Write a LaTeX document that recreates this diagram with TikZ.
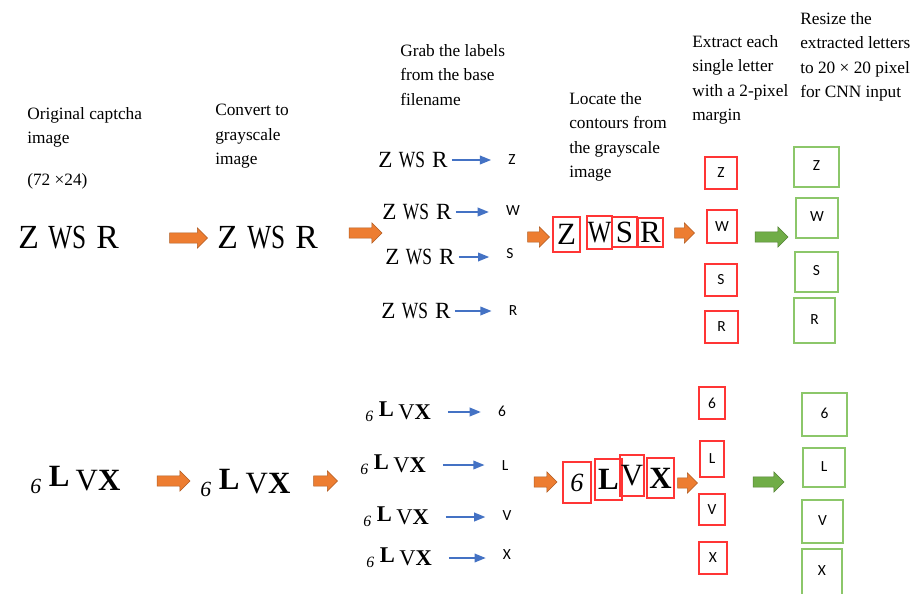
\documentclass[tikz,border=0pt]{standalone}
\usepackage{fontspec}
\usepackage{graphicx}
\setmainfont{Liberation Serif}
\newfontfamily\letterfont{Carlito}
\usetikzlibrary{shapes.arrows,arrows.meta}

\definecolor{arroworange}{HTML}{ED7D31}
\definecolor{arrowgreen}{HTML}{70AD47}
\definecolor{contourred}{HTML}{FF3535}
\definecolor{resizegreen}{HTML}{8CC76A}
\definecolor{labelblue}{HTML}{4472C4}

% one pixel of the layout
\def\px{0.025cm}

% the two captcha strings
\newcommand{\zwsr}{Z\hspace{0.28em}\scalebox{0.75}[1]{WS}\hspace{0.3em}R}
\newcommand{\sixlvx}{\raisebox{-0.1em}{\scalebox{0.7}{\itshape 6}}\hspace{0.25em}\raisebox{0.12em}{\textbf{L}}\hspace{0.2em}V\textbf{X}}
% letter sitting up-left in a resized box
\newcommand{\gl}[1]{\raisebox{2pt}{#1}\hspace{7pt}}

\tikzset{
  note/.style={anchor=north west, inner sep=0pt, align=left, font=\fontsize{12.3}{17.4}\selectfont},
  bigcap/.style={anchor=west, inner sep=0pt, font=\fontsize{24}{24}\selectfont},
  smallcap/.style={anchor=west, inner sep=0pt, font=\fontsize{16.5}{16.5}\selectfont},
  lettertxt/.style={inner sep=1pt, font=\letterfont\fontsize{11}{11}\selectfont},
  labelarrow/.style={draw=labelblue, line width=1.5pt, -{Triangle[length=8pt,width=6pt]}},
  flowarrow/.style={single arrow, draw=#1!75!black, fill=#1, line width=0.4pt,
    inner sep=3.4pt, single arrow head extend=3.6pt},
  contour/.style={draw=contourred, line width=0.8pt, inner sep=0pt, font=\fontsize{22}{22}\selectfont},
  extractbox/.style={draw=contourred, line width=1pt, inner sep=0pt, font=\letterfont\fontsize{11}{11}\selectfont},
  resizedbox/.style={draw=resizegreen, line width=1pt, inner sep=0pt, font=\letterfont\fontsize{11}{11}\selectfont},
}

\begin{document}
\begin{tikzpicture}[x=\px, y=-\px]
    \fill[white] (0,0) rectangle (915,593);
    \useasboundingbox (0,0) rectangle (915,593);

    % Step descriptions
    \node[note] (tOrig) at (27,107) {Original captcha\\image};
    \node[note] (tSize) at (27,173) {(72 ×24)};
    \node[note] (tGray) at (215,104) {Convert to\\grayscale\\image};
    \node[note] (tGrab) at (400,44) {Grab the labels\\from the base\\filename};
    \node[note] (tLocate) at (569,92) {Locate the\\contours from\\the grayscale\\image};
    \node[note] (tExtract) at (692,35) {Extract each\\single letter\\with a 2-pixel\\margin};
    \node[note] (tResize) at (800,12) {Resize the\\extracted letters\\to 20 × 20 pixel\\for CNN input};

    %% ---------- first captcha: Z WS R ----------
    \node[bigcap] (zOrig) at (18,238) {\zwsr};
    \node[flowarrow=arroworange, minimum height=38*\px] (za1) at (186,238) {};
    \node[bigcap] (zGray) at (217,238) {\zwsr};
    \node[flowarrow=arroworange, minimum height=33*\px] (za2) at (363,233) {};

    % labels from the filename
    \foreach \lt/\cx/\cy/\lx/\ly [count=\i] in {Z/378/160/512/160, W/382/212/513/211, S/385/257/510/254, R/381/311/513/311} {
        \node[smallcap] (zs\i) at (\cx,\cy) {\zwsr};
        \node[lettertxt] (zl\i) at (\lx,\ly) {\lt};
        \draw[labelarrow, shorten <=3pt, shorten >=11pt] (zs\i.east) -- (zs\i.east -| zl\i.west);
    }

    \node[flowarrow=arroworange, minimum height=22*\px] (za3) at (536,237) {};
    % contours
    \node[contour, minimum width=27*\px, minimum height=35*\px] (zc1) at (566.5,234.5) {Z};
    \node[contour, minimum width=25*\px, minimum height=33*\px] (zc2) at (599.5,232.5) {\scalebox{0.8}[1]{W}};
    \node[contour, minimum width=25*\px, minimum height=30*\px] (zc3) at (624.5,232) {S};
    \node[contour, minimum width=25*\px, minimum height=29*\px] (zc4) at (650.5,232.5) {R};
    \node[flowarrow=arroworange, minimum height=20*\px] (za4) at (682,233) {};

    % extracted and resized letters
    \foreach \lt/\ex/\ey/\ew/\eh/\gx/\gy/\gw/\gh [count=\i] in
        {Z/721/173/32/32/816.5/167/45/40, W/722/226.5/30/33/817/218/42/40,
         S/721/280/32/32/816.5/272/43/40, R/721.5/327/33/32/814.5/320.5/41/45} {
        \node[extractbox, minimum width=\ew*\px, minimum height=\eh*\px] (ze\i) at (\ex,\ey) {\lt};
        \node[resizedbox, minimum width=\gw*\px, minimum height=\gh*\px] (zr\i) at (\gx,\gy) {\gl{\lt}};
    }
    \node[flowarrow=arrowgreen, minimum height=33*\px] (za5) at (769,237) {};

    %% ---------- second captcha: 6 L V X ----------
    \node[bigcap, font=\fontsize{22}{22}\selectfont] (sOrig) at (30,480) {\sixlvx};
    \node[flowarrow=arroworange, minimum height=33*\px] (sa1) at (171,481) {};
    \node[bigcap, font=\fontsize{22}{22}\selectfont] (sGray) at (200,483) {\sixlvx};
    \node[flowarrow=arroworange, minimum height=24*\px] (sa2) at (323,481) {};

    \foreach \lt/\cx/\cy/\lx/\ly [count=\i] in {6/365/412/502/411, L/360/465/505/466, V/363/517/507/516, X/366/558/507/555} {
        \node[smallcap, font=\fontsize{16}{16}\selectfont] (ss\i) at (\cx,\cy) {\sixlvx};
        \node[lettertxt] (sl\i) at (\lx,\ly) {\lt};
        \draw[labelarrow, shorten <=12pt, shorten >=11pt] (ss\i.east) -- (ss\i.east -| sl\i.west);
    }

    \node[flowarrow=arroworange, minimum height=23*\px] (sa3) at (543,482) {};
    \node[contour, minimum width=28*\px, minimum height=41*\px] (sc1) at (577,482.5) {\scalebox{0.85}{\itshape 6}};
    \node[contour, minimum width=27*\px, minimum height=41*\px] (sc2) at (608.5,479.5) {\textbf{L}};
    \node[contour, minimum width=24*\px, minimum height=41*\px] (sc3) at (632,475.5) {V};
    \node[contour, minimum width=27*\px, minimum height=40*\px] (sc4) at (660.5,478) {\textbf{X}};
    \node[flowarrow=arroworange, minimum height=20*\px] (sa4) at (685,483) {};

    \foreach \lt/\ex/\ey/\ew/\eh/\gx/\gy/\gw/\gh [count=\i] in
        {6/712/403/26/32/824.5/414.5/45/43, L/712/459/24/36/824/467.5/42/39,
         V/712/509.5/26/31/822.5/521.5/41/43, X/713/558/28/32/822/572/40/46} {
        \node[extractbox, minimum width=\ew*\px, minimum height=\eh*\px] (se\i) at (\ex,\ey) {\lt};
        \node[resizedbox, minimum width=\gw*\px, minimum height=\gh*\px] (sr\i) at (\gx,\gy) {\gl{\lt}};
    }
    \node[flowarrow=arrowgreen, minimum height=31*\px] (sa5) at (766,482) {};

\end{tikzpicture}
\end{document}
